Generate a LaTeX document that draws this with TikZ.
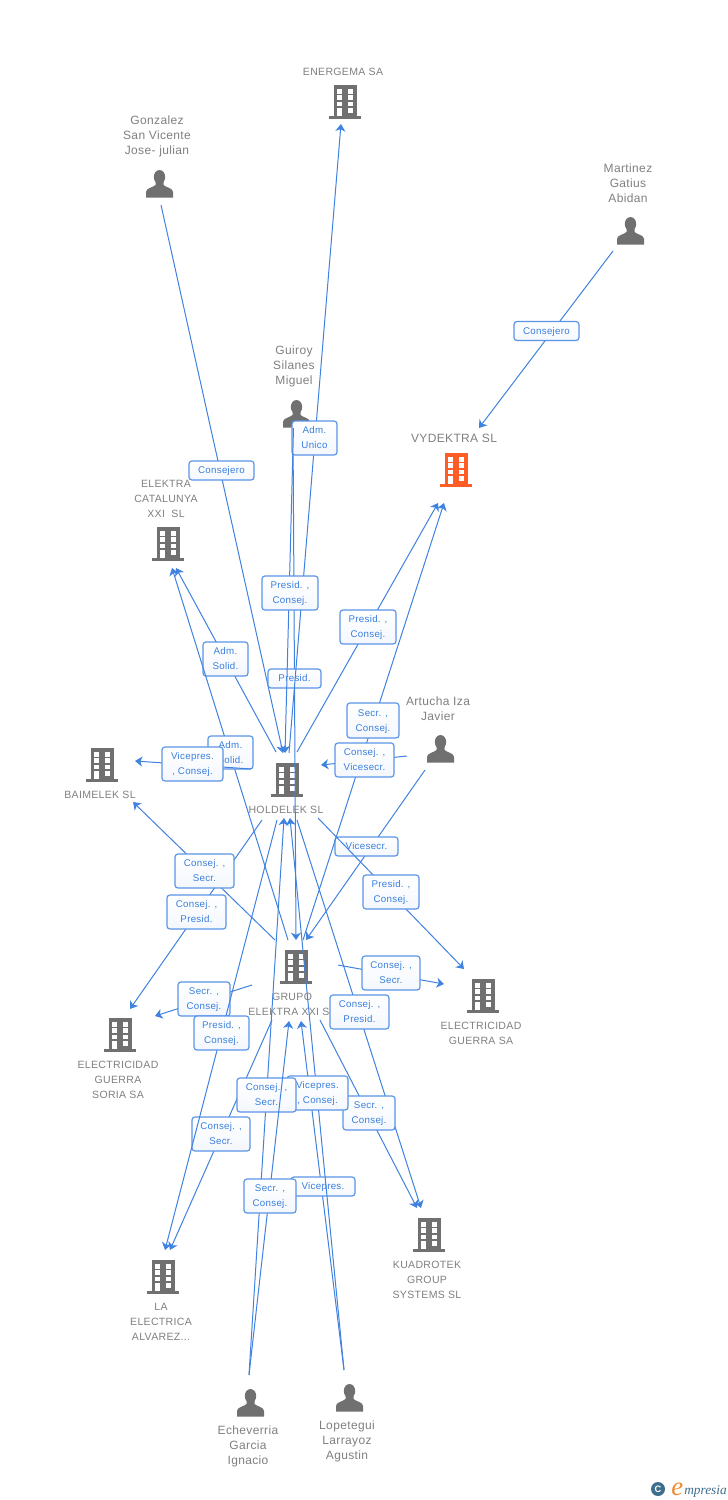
\documentclass[tikz,border=0pt]{standalone}
\usepackage{fontspec}
\setmainfont{Liberation Sans}
\newfontfamily\spaced[LetterSpace=3]{Liberation Sans}
\newfontfamily\logofont{Liberation Serif}
\usetikzlibrary{arrows.meta}
\definecolor{lineblue}{HTML}{3F82E0}
\definecolor{boxblue}{HTML}{5A94E6}
\definecolor{textblue}{HTML}{3A7FDD}
\definecolor{labgray}{HTML}{808080}
\definecolor{icongray}{HTML}{707070}
\definecolor{iconorange}{HTML}{FF5C26}
\definecolor{logoblue}{HTML}{3E6E8E}
\definecolor{logoorange}{HTML}{F08A30}
\tikzset{
  x=0.75pt,y=-0.75pt,
  conn/.style={draw=lineblue,line width=0.75pt,-{Stealth[length=5.5pt,width=7.5pt,inset=1.6pt]}},
  lab/.style={draw=boxblue,line width=0.9pt,rounded corners=2.2pt,top color=white,bottom color=white!93!boxblue,
    text=textblue,align=center,inner sep=0pt,font=\spaced\fontsize{7.3}{11.25}\selectfont},
  co/.style={text=labgray,align=center,inner sep=0pt,yshift=-0.5pt,font=\spaced\fontsize{7.9}{11.25}\selectfont},
  pers/.style={text=labgray,align=center,inner sep=0pt,yshift=-0.5pt,font=\spaced\fontsize{9}{11.25}\selectfont},
  iconbox/.style={inner sep=0pt,minimum width=23pt,minimum height=25pt},
  building/.pic={
    \fill[pic actions] (-11,-17) rectangle (11.5,15);
    \fill[pic actions] (-16,14) rectangle (16,17.3);
    \foreach \yy in {-13,-6.7,-0.2}{
      \fill[white] (-8.3,\yy) rectangle (-3.3,\yy+4.6);
      \fill[white] (2.7,\yy) rectangle (7.7,\yy+4.6);}
    \fill[white] (2.7,6.3) rectangle (7.7,10.9);
    \fill[white] (-8.3,6.3) rectangle (-3.3,14);
  },
  personicon/.pic={
    \fill[pic actions] (0.5,-7) ellipse (5.7 and 7);
    \fill[pic actions] (-13,13.5) -- (-13,8) .. controls (-13,4) and (-6,3.5) .. (-3.5,1)
      -- (-3.5,-3) -- (4.5,-3) -- (4.5,1) .. controls (7,3.5) and (14,4) .. (14,8) -- (14,13.5) -- cycle;
  }
}
\newcommand{\bldg}[4]{%
  \node[iconbox] (#1) at (#2,#3) {};
  \pic[fill=#4] at (#1.center) {building};}
\newcommand{\persn}[3]{%
  \node[iconbox] (#1) at (#2,#3) {};
  \pic[fill=icongray] at (#1.center) {personicon};}
% id, x1,y1, x2,y2
\newcommand{\conn}[5]{%
  \coordinate (#1s) at (#2,#3);
  \coordinate (#1t) at (#4,#5);
  \draw[conn] (#1s) -- (#1t);}
% id, cx,cy, w,h, text
\newcommand{\lb}[6]{%
  \node[lab,minimum width=#4*0.75pt,minimum height=#5*0.75pt] (#1) at (#2,#3)
    {\raisebox{-0.7pt}{\begin{tabular}{@{}c@{}}#6\end{tabular}}};}
\begin{document}
\begin{tikzpicture}
\fill[white] (0,0) rectangle (728,1500);
\useasboundingbox (0,0) rectangle (728,1500);

% companies
\bldg{energema}{345}{102}{icongray}
\bldg{vydektra}{456}{470}{iconorange}
\bldg{elektra}{168}{544}{icongray}
\bldg{baimelek}{102}{765}{icongray}
\bldg{holdelek}{287}{780}{icongray}
\bldg{grupo}{296}{967}{icongray}
\bldg{guerra}{483}{996}{icongray}
\bldg{soria}{120}{1035}{icongray}
\bldg{laelec}{163}{1277}{icongray}
\bldg{kuadro}{429}{1235}{icongray}
% people
\persn{gonzalez}{159}{184}
\persn{martinez}{630}{231}
\persn{guiroy}{296}{414}
\persn{artucha}{440}{749}
\persn{echev}{250}{1403}
\persn{lopet}{349}{1398}

\node[co] (energemaT) at (343,71) {ENERGEMA SA};
\node[co,font=\spaced\fontsize{9}{11.25}\selectfont] (vydektraT) at (454,438) {VYDEKTRA SL};
\node[co] (elektraT) at (166,498) {ELEKTRA\\CATALUNYA\\XXI\ \ SL};
\node[co] (baimelekT) at (100,794) {BAIMELEK SL};
\node[co] (holdelekT) at (286,809) {HOLDELEK SL};
\node[co] (grupoT) at (292,1003.5) {GRUPO\\ELEKTRA XXI SL};
\node[co] (guerraT) at (481,1032.5) {ELECTRICIDAD\\GUERRA SA};
\node[co] (soriaT) at (118,1079) {ELECTRICIDAD\\GUERRA\\SORIA SA};
\node[co] (laelecT) at (161,1321) {LA\\ELECTRICA\\ALVAREZ...};
\node[co] (kuadroT) at (427,1279.5) {KUADROTEK\\GROUP\\SYSTEMS SL};
\node[pers] (gonzalezT) at (157,136) {Gonzalez\\San Vicente\\Jose- julian};
\node[pers] (martinezT) at (628,183) {Martinez\\Gatius\\Abidan};
\node[pers] (guiroyT) at (294,366) {Guiroy\\Silanes\\Miguel};
\node[pers] (artuchaT) at (438,708.5) {Artucha Iza\\Javier};
\node[pers] (echevT) at (248,1446) {Echeverria\\Garcia\\Ignacio};
\node[pers] (lopetT) at (347,1441) {Lopetegui\\Larrayoz\\Agustin};

% connectors and their labels, in stacking order
\conn{e1}{161}{205}{283}{753}
\lb{l1}{221.5}{470.5}{65}{19}{Consejero}
\conn{e4}{613}{251}{479}{428}
\lb{l4}{546.5}{331}{65}{19}{Consejero}

\conn{e3}{293}{428}{296}{940}
\lb{l3}{294.5}{678.5}{53}{19}{Presid.}
\conn{e2}{289}{753}{341}{124}
\lb{l2}{314.5}{438}{45}{34}{Adm.\\Unico}
\conn{e5}{293.5}{428}{285}{753}
\lb{l5}{290}{593}{56}{34}{Presid. ,\\Consej.}

\conn{e6}{297}{752}{438}{503}
\lb{l6}{368}{627}{56}{34}{Presid. ,\\Consej.}
\conn{e7}{276}{752}{176}{568}
\lb{l7}{225.5}{659}{45}{34}{Adm.\\Solid.}
\conn{e8}{288}{940}{172}{568}
\lb{l8}{230.5}{752.5}{45}{33}{Adm.\\Solid.}
\conn{e9}{251}{769}{135}{761}
\lb{l9}{192.5}{764}{61}{34}{Vicepres.\\, Consej.}

\conn{e11}{425}{770}{306}{940}
\lb{l11}{366.5}{846.5}{63}{19}{Vicesecr.}
\conn{e10a}{303}{940}{444}{503}
\lb{l10a}{373}{720.5}{52}{35}{Secr. ,\\Consej.}
\conn{e10}{407}{756}{321}{765}
\lb{l10}{364.5}{760}{59}{34}{Consej. ,\\Vicesecr.}

\conn{e13}{262}{820}{130}{1009}
\lb{l13}{196.5}{912}{59}{34}{Consej. ,\\Presid.}
\conn{e12}{275}{940}{133}{802}
\lb{l12}{204.5}{871}{59}{34}{Consej. ,\\Secr.}
\conn{e14}{318}{818}{464}{969}
\lb{l14}{391}{892}{56}{34}{Presid. ,\\Consej.}
\conn{e15}{338}{965}{444}{984}
\lb{l15}{391}{973}{58}{34}{Consej. ,\\Secr.}

\conn{e16}{252}{985}{155}{1016}
\lb{l16}{204}{999}{52}{34}{Secr. ,\\Consej.}
\conn{e20}{272}{1020}{170}{1250}
\lb{l20}{221}{1134}{58}{34}{Consej. ,\\Secr.}
\conn{e17}{277}{820}{165}{1250}
\lb{l17}{221.5}{1033}{55}{34}{Presid. ,\\Consej.}
\conn{e18}{297}{820}{421}{1208}
\lb{l18}{359.5}{1012}{59}{34}{Consej. ,\\Presid.}
\conn{e19}{320}{1020}{417}{1208}
\lb{l19}{369}{1113}{52}{34}{Secr. ,\\Consej.}

\conn{e24}{344}{1370}{301}{1021}
\lb{l24}{323}{1186.5}{64}{19}{Vicepres.}
\conn{e22}{344}{1370}{290}{818}
\lb{l22}{317.5}{1093}{61}{34}{Vicepres.\\, Consej.}
\conn{e21}{249}{1375}{284}{818}
\lb{l21}{266.5}{1095}{59}{34}{Consej. ,\\Secr.}
\conn{e23}{249}{1375}{289}{1021}
\lb{l23}{270}{1196}{52}{34}{Secr. ,\\Consej.}

% logo
\fill[logoblue] (658,1489) circle (7);
\node[text=white,inner sep=0pt,font=\bfseries\fontsize{7}{8}\selectfont] (logoC) at (658,1489) {C};
\node[text=logoorange,inner sep=0pt,anchor=base west,font=\logofont\itshape\fontsize{20}{22}\selectfont] (logoE) at (671,1495) {e};
\node[text=logoblue,inner sep=0pt,anchor=base west,font=\logofont\itshape\fontsize{10}{12}\selectfont] (logoT) at (684,1494) {mpresia};
\end{tikzpicture}
\end{document}
